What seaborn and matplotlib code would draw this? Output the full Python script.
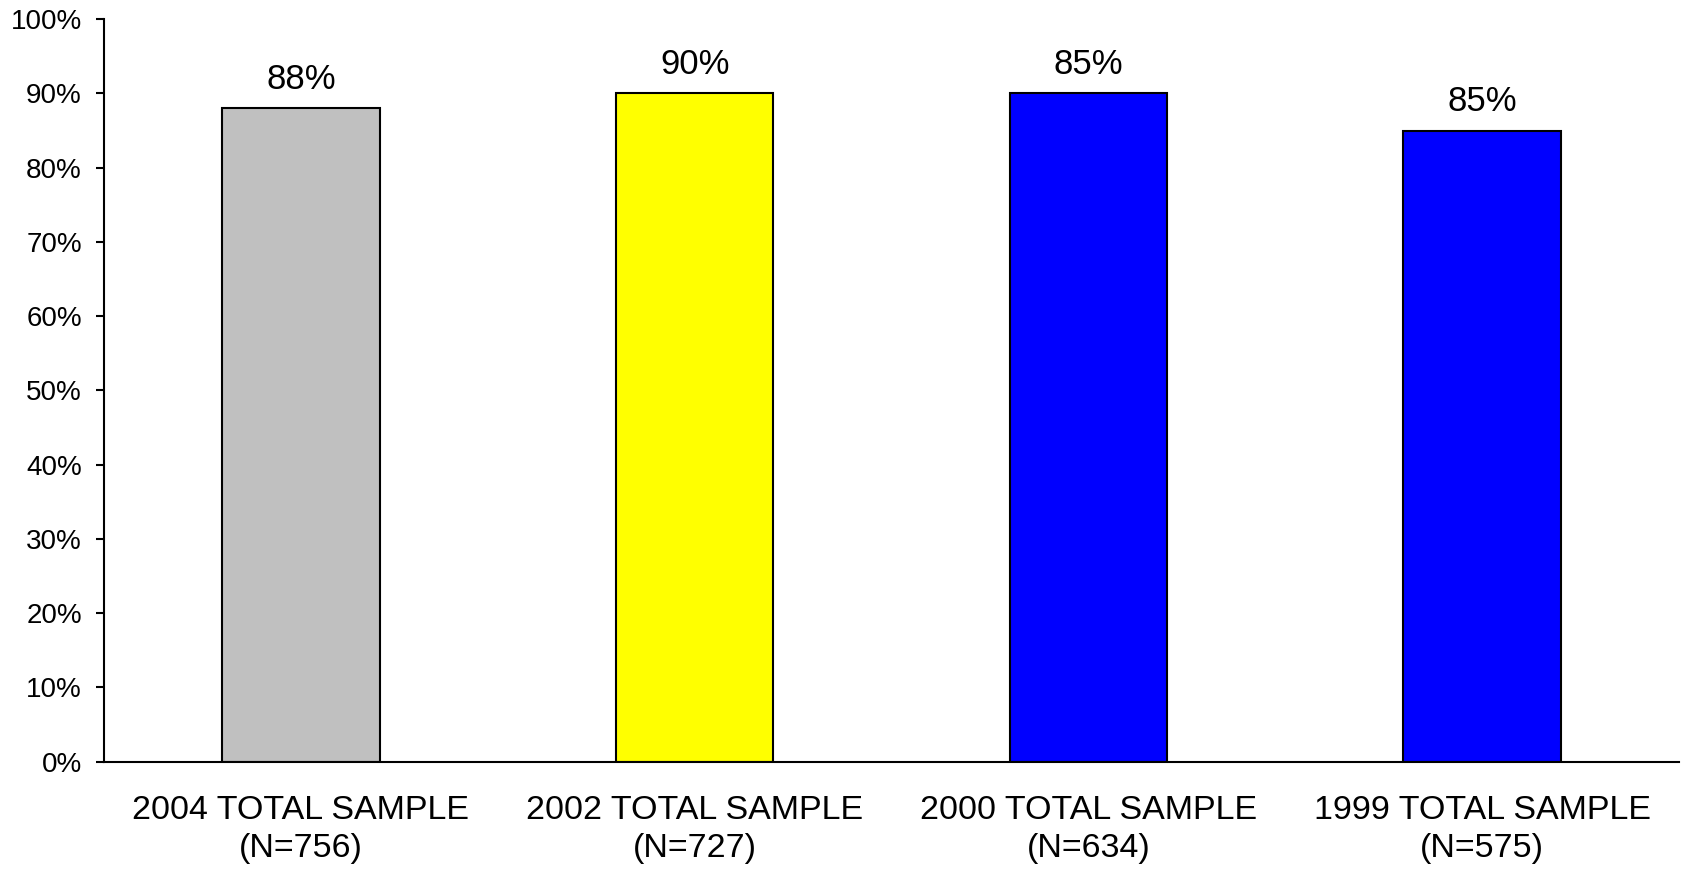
import matplotlib
matplotlib.use("Agg")
import matplotlib.pyplot as plt
import seaborn as sns
import pandas as pd

categories = ["2004 TOTAL SAMPLE\n(N=756)", "2002 TOTAL SAMPLE\n(N=727)",
              "2000 TOTAL SAMPLE\n(N=634)", "1999 TOTAL SAMPLE\n(N=575)"]
values = [88, 90, 90, 85]
value_labels = ["88%", "90%", "85%", "85%"]
colors = ["#C0C0C0", "#FFFF00", "#0000FF", "#0000FF"]
y_ticks = [0, 10, 20, 30, 40, 50, 60, 70, 80, 90, 100]

sns.set_theme(style="white")
plt.rcParams['font.family'] = ['Liberation Sans', 'DejaVu Sans']
plt.rcParams['text.color'] = 'black'
plt.rcParams['xtick.color'] = 'black'
plt.rcParams['ytick.color'] = 'black'

fig = plt.figure(figsize=(16.84, 8.72), dpi=100)
ax = fig.add_axes([0.0618, 0.1267, 0.9352, 0.8513])

df = pd.DataFrame({"cat": categories, "val": values})
sns.barplot(data=df, x="cat", y="val", hue="cat", palette=colors, width=0.4,
            edgecolor="black", linewidth=1.5, legend=False, ax=ax, saturation=1)

ax.set_xlim(-0.5, 3.5)
ax.set_ylim(0, 100)
ax.set_yticks(y_ticks)
ax.set_yticklabels([f"{t}%" for t in y_ticks], fontsize=20, color="black")
ax.set_xticks(range(len(categories)))
ax.set_xticklabels(categories, fontsize=24.5, color="black", linespacing=1.3)
ax.set_xticks([i - 0.5 for i in range(len(categories) + 1)], minor=True)
ax.tick_params(axis="x", which="major", length=0, pad=24)
ax.tick_params(axis="x", which="minor", length=9, width=1.5, color="black", direction="out")
ax.tick_params(axis="y", length=6, width=1.5, color="black", direction="out", left=True, pad=10)
ax.set_xlabel("")
ax.set_ylabel("")

for s in ["top", "right"]:
    ax.spines[s].set_visible(False)
for s in ["left", "bottom"]:
    ax.spines[s].set_color("black")
    ax.spines[s].set_linewidth(1.5)

for i, (v, lab) in enumerate(zip(values, value_labels)):
    ax.annotate(lab, (i, v), xytext=(0, 21), textcoords="offset points",
                ha="center", va="center", fontsize=25, color="black")

fig.savefig("out.png", dpi=100, facecolor="white")
